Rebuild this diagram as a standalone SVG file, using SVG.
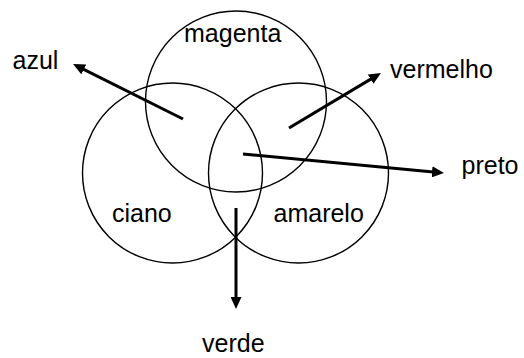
<svg xmlns="http://www.w3.org/2000/svg" width="524" height="358" viewBox="0 0 524 358">
<style>
.c{fill:none;stroke:#000;stroke-width:1.4}
.a{stroke:#000;stroke-width:3;fill:none;marker-end:url(#ah)}
.t{font-family:"Liberation Sans",Arial,sans-serif;font-size:25px;fill:#000}
</style>
<defs>
<marker id="ah" viewBox="0 0 12 11" refX="4" refY="5.5" markerWidth="12" markerHeight="11" markerUnits="userSpaceOnUse" orient="auto">
<path d="M0,0 L12,5.5 L0,11 z" fill="#000"/>
</marker>
</defs>
<rect width="524" height="358" fill="#fff"/>
<g id="magenta"><circle class="c" cx="236" cy="101.5" r="90.5"/><text class="t" x="184" y="42">magenta</text></g>
<g id="ciano"><circle class="c" cx="172.5" cy="173" r="90"/><text class="t" x="112" y="222">ciano</text></g>
<g id="amarelo"><circle class="c" cx="298.5" cy="173" r="90"/><text class="t" x="273.5" y="222">amarelo</text></g>
<g id="azul"><text class="t" x="12.5" y="68.5">azul</text></g>
<g id="vermelho"><text class="t" x="390" y="77.5">vermelho</text></g>
<g id="preto"><text class="t" x="461.5" y="174">preto</text></g>
<g id="verde"><text class="t" x="202" y="352">verde</text></g>
<g id="connectors">
<line class="a" x1="183" y1="119" x2="80.2" y2="67.6"/>
<line class="a" x1="289" y1="128" x2="374.1" y2="77.1"/>
<line class="a" x1="243" y1="154" x2="436" y2="172.2"/>
<line class="a" x1="236" y1="208" x2="236" y2="301"/>
</g>
</svg>
